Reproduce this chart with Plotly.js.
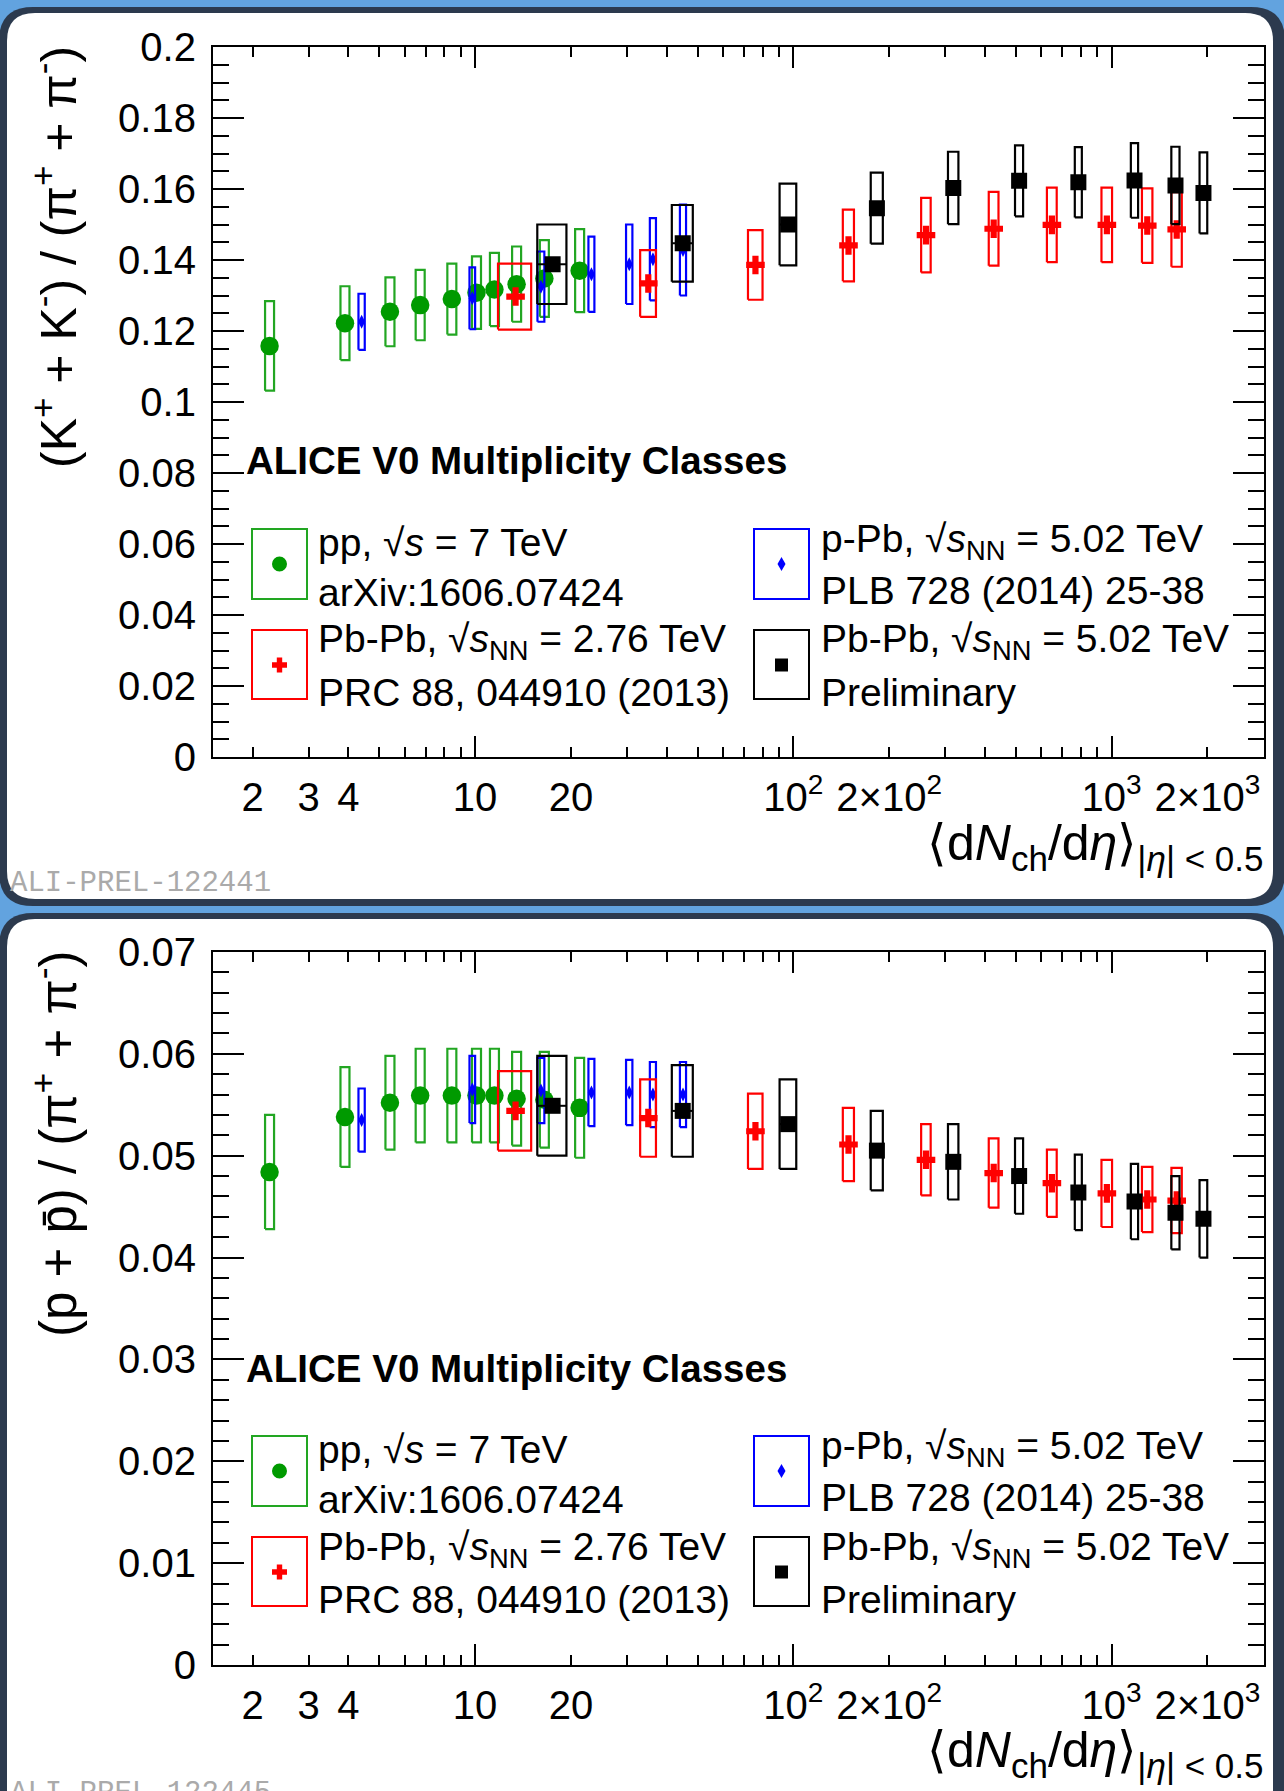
<!DOCTYPE html>
<html>
<head>
<meta charset="utf-8">
<script src="https://cdn.plot.ly/plotly-3.0.1.min.js"></script>
<style>
html,body{margin:0;padding:0;background:#62a3df;}
#chart{width:1284px;height:1791px;}
</style>
</head>
<body>
<div id="chart"></div>
<script>
// ---------------- DATA ----------------
// x: <dNch/deta>, |eta|<0.5
const ppX = [2.26, 3.90, 5.40, 6.72, 8.45, 10.1, 11.5, 13.5, 16.5, 21.3];
const pPbX = [4.4, 9.8, 16.1, 23.2, 30.5, 36.2, 45.0];
const pPbXerr = [0.1, 0.2, 0.4, 0.5, 0.7, 0.8, 1.0];
const PbPb276X = [13.4, 35, 76, 149, 261, 426, 649, 966, 1294, 1601];
const PbPb276Xerr = [1.6, 2, 4, 6, 9, 15, 23, 37, 49, 60];
const PbPb502X = [17.52, 44.9, 96.3, 183, 318, 512, 786, 1180, 1587, 1943];
const PbPb502Xerr = [1.84, 3.4, 5.8, 8, 12, 15, 20, 31, 47, 54];

// (K+ + K-)/(pi+ + pi-)
const kpiPP = [0.1158, 0.1222, 0.1254, 0.1273, 0.1290, 0.1308, 0.1317, 0.1332, 0.1348, 0.1370];
const kpiPPsys = [0.0126, 0.0104, 0.0097, 0.0099, 0.0100, 0.0102, 0.0103, 0.0106, 0.0108, 0.0117];
const kpiPPb = [0.1226, 0.1292, 0.1325, 0.1360, 0.1388, 0.1402, 0.1428];
const kpiPPbSys = [0.0079, 0.0087, 0.0099, 0.0106, 0.0112, 0.0116, 0.0128];
const kpiPbPb276 = [0.1297, 0.1334, 0.1386, 0.1441, 0.1470, 0.1488, 0.1499, 0.1499, 0.1497, 0.1486];
const kpiPbPb276Sys = [0.0093, 0.0094, 0.0098, 0.0101, 0.0105, 0.0104, 0.0105, 0.0105, 0.0105, 0.0105];
const kpiPbPb502 = [0.1388, 0.1447, 0.1500, 0.1546, 0.1603, 0.1623, 0.1619, 0.1624, 0.1610, 0.1589];
const kpiPbPb502Sys = [0.0112, 0.0108, 0.0115, 0.0100, 0.0102, 0.0100, 0.0099, 0.0105, 0.0109, 0.0114];

// (p + pbar)/(pi+ + pi-)
const ppiPP = [0.0484, 0.0538, 0.0552, 0.0559, 0.0559, 0.0559, 0.0559, 0.0556, 0.0555, 0.0547];
const ppiPPsys = [0.0056, 0.0049, 0.0046, 0.0046, 0.0046, 0.0046, 0.0046, 0.0046, 0.0047, 0.0049];
const ppiPPb = [0.0535, 0.0565, 0.0564, 0.0562, 0.0562, 0.0560, 0.0560];
const ppiPPbSys = [0.0031, 0.0033, 0.0032, 0.0033, 0.0032, 0.0032, 0.0032];
const ppiPbPb276 = [0.0544, 0.0537, 0.0524, 0.0511, 0.0496, 0.0483, 0.0473, 0.0463, 0.0457, 0.0456];
const ppiPbPb276Sys = [0.0039, 0.0038, 0.0037, 0.0036, 0.0035, 0.0034, 0.0033, 0.0033, 0.0032, 0.0032];
const ppiPbPb502 = [0.0549, 0.0544, 0.0531, 0.0505, 0.0494, 0.0480, 0.0464, 0.0455, 0.0444, 0.0438];
const ppiPbPb502Sys = [0.0049, 0.0045, 0.0044, 0.0039, 0.0037, 0.0037, 0.0037, 0.0037, 0.0036, 0.0038];

// tick labels
const xTickVals = [2, 3, 4, 10, 20, 100, 200, 1000, 2000];
const xTickText = ['2', '3', '4', '10', '20', '10<sup>2</sup>', '2×10<sup>2</sup>', '10<sup>3</sup>', '2×10<sup>3</sup>'];
const xMinorVals = [5, 6, 7, 8, 9, 30, 40, 50, 60, 70, 80, 90, 300, 400, 500, 600, 700, 800, 900];
const xDecadeVals = [10, 100, 1000];

// ---------------- STYLE / GEOMETRY ----------------
const W = 1284, H = 1791;
const PX = v => v / W;
const PY = v => 1 - v / H;
const GREEN = '#009a00', GREEN_BOX = '#22a622', RED = '#ff0000', BLUE = '#0000ff', BLACK = '#000000';
const FONT = "'Liberation Sans', Arial, sans-serif";
const PX_PER_DEC = 318.3;
const PP_BOX_HALF_PX = 4.5;
const BOTTOM_SHIFT = 907;

const topP = {x0: 212.9, x1: 1263.5, y0: 47, y1: 757};
const botP = {x0: 212.9, x1: 1263.5, y0: 952, y1: 1665};

function boxTrace(xs, ys, sys, xlo, xhi, color, xa, ya) {
  const bx = [], by = [];
  xs.forEach((x, i) => {
    const a = xlo(i), b = xhi(i), lo = ys[i] - sys[i], hi = ys[i] + sys[i];
    bx.push(a, b, b, a, a, null);
    by.push(lo, lo, hi, hi, lo, null);
  });
  return {x: bx, y: by, xaxis: xa, yaxis: ya, mode: 'lines', line: {color: color, width: 2.2},
          hoverinfo: 'skip', showlegend: false, connectgaps: false};
}
function markerTrace(xs, ys, symbol, size, color, xa, ya, xerr) {
  const t = {x: xs, y: ys, xaxis: xa, yaxis: ya, mode: 'markers',
    marker: {symbol: symbol, size: size, color: color, line: {width: 0}}, showlegend: false};
  if (xerr) t.error_x = {type: 'data', array: xerr, visible: true, thickness: 2, width: 0, color: color};
  return t;
}
const ppK = Math.pow(10, PP_BOX_HALF_PX / PX_PER_DEC);
function panelTraces(xa, ya, yPP, sPP, yPPb, sPPb, y276, s276, y502, s502) {
  return [
    boxTrace(ppX, yPP, sPP, i => ppX[i] / ppK, i => ppX[i] * ppK, GREEN_BOX, xa, ya),
    markerTrace(ppX, yPP, 'circle', 18.5, GREEN, xa, ya),
    boxTrace(pPbX, yPPb, sPPb, i => pPbX[i] - pPbXerr[i], i => pPbX[i] + pPbXerr[i], BLUE, xa, ya),
    markerTrace(pPbX, yPPb, 'diamond-tall', 10, BLUE, xa, ya),
    boxTrace(PbPb276X, y276, s276, i => PbPb276X[i] - PbPb276Xerr[i], i => PbPb276X[i] + PbPb276Xerr[i], RED, xa, ya),
    markerTrace(PbPb276X, y276, 'cross', 15.5, RED, xa, ya),
    boxTrace(PbPb502X, y502, s502, i => PbPb502X[i] - PbPb502Xerr[i], i => PbPb502X[i] + PbPb502Xerr[i], BLACK, xa, ya),
    markerTrace(PbPb502X, y502, 'square', 16, BLACK, xa, ya, PbPb502Xerr)
  ];
}

const data = []
  .concat(panelTraces('x', 'y', kpiPP, kpiPPsys, kpiPPb, kpiPPbSys, kpiPbPb276, kpiPbPb276Sys, kpiPbPb502, kpiPbPb502Sys))
  .concat(panelTraces('x2', 'y2', ppiPP, ppiPPsys, ppiPPb, ppiPPbSys, ppiPbPb276, ppiPbPb276Sys, ppiPbPb502, ppiPbPb502Sys));
// empty traces so the decade-tick overlay axes are drawn
data.push({x: [], y: [], xaxis: 'x3', yaxis: 'y', mode: 'markers', showlegend: false});
data.push({x: [], y: [], xaxis: 'x4', yaxis: 'y2', mode: 'markers', showlegend: false});

const xRange = [Math.log10(1.5), Math.log10(3000)];
function xAxis(p, anchor) {
  return {domain: [PX(p.x0), PX(p.x1)], anchor: anchor, type: 'log', range: xRange,
    tickmode: 'array', tickvals: xTickVals, ticktext: xTickText,
    ticks: 'inside', ticklen: 10, tickwidth: 2, tickcolor: '#000',
    minor: {tickmode: 'array', tickvals: xMinorVals, ticks: 'inside', ticklen: 10, tickwidth: 2, tickcolor: '#000', showgrid: false},
    showline: true, linewidth: 2, linecolor: '#000', mirror: 'ticks',
    showgrid: false, zeroline: false, ticklabelstandoff: 4,
    tickfont: {family: FONT, size: 40, color: '#000'}};
}
function decadeAxis(p, over, anchor) {
  return {domain: [PX(p.x0), PX(p.x1)], overlaying: over, anchor: anchor, type: 'log', range: xRange,
    tickmode: 'array', tickvals: xDecadeVals, ticks: 'inside', ticklen: 21, tickwidth: 2, tickcolor: '#000',
    showticklabels: false, showline: false, mirror: 'ticks', showgrid: false, zeroline: false};
}
function yAxis(p, anchor, range, dtick, mdtick) {
  return {domain: [PY(p.y1), PY(p.y0)], anchor: anchor, range: range,
    tickmode: 'linear', tick0: 0, dtick: dtick,
    ticks: 'inside', ticklen: 31, tickwidth: 2, tickcolor: '#000',
    minor: {tick0: 0, dtick: mdtick, ticks: 'inside', ticklen: 16, tickwidth: 2, tickcolor: '#000', showgrid: false},
    showline: true, linewidth: 2, linecolor: '#000', mirror: 'ticks',
    showgrid: false, zeroline: false, ticklabelstandoff: 7,
    tickfont: {family: FONT, size: 40, color: '#000'}};
}

// ---------- background panels ----------
function roundRect(x0, y0, x1, y1, r) {
  const p = (x, y) => PX(x) + ',' + PY(y);
  return 'M ' + p(x0 + r, y0) + ' L ' + p(x1 - r, y0) + ' Q ' + p(x1, y0) + ' ' + p(x1, y0 + r) +
    ' L ' + p(x1, y1 - r) + ' Q ' + p(x1, y1) + ' ' + p(x1 - r, y1) +
    ' L ' + p(x0 + r, y1) + ' Q ' + p(x0, y1) + ' ' + p(x0, y1 - r) +
    ' L ' + p(x0, y0 + r) + ' Q ' + p(x0, y0) + ' ' + p(x0 + r, y0) + ' Z';
}
const shapes = [];
function panel(y0, y1) {
  shapes.push({type: 'path', xref: 'paper', yref: 'paper', layer: 'below', path: roundRect(-1, y0, 1285, y1, 34),
    fillcolor: '#2c3a4e', line: {width: 0}});
  shapes.push({type: 'path', xref: 'paper', yref: 'paper', layer: 'below', path: roundRect(7, y0 + 6, 1273, y1 - 7, 28),
    fillcolor: '#ffffff', line: {width: 0}});
}
panel(7, 906);
panel(913, 1830);

// ---------- legend glyphs ----------
function rectShape(x0, y0, x1, y1, color, fill) {
  shapes.push({type: 'rect', xref: 'paper', yref: 'paper', x0: PX(x0), x1: PX(x1), y0: PY(y1), y1: PY(y0),
    line: {color: color, width: fill ? 0 : 2}, fillcolor: fill ? color : 'rgba(0,0,0,0)'});
}
function pathShape(pts, color) {
  const d = pts.map((q, i) => (i ? 'L ' : 'M ') + PX(q[0]) + ',' + PY(q[1])).join(' ') + ' Z';
  shapes.push({type: 'path', xref: 'paper', yref: 'paper', path: d, fillcolor: color, line: {width: 0}});
}
function legendGlyphs(dy) {
  const c1 = 279.5, c2 = 781.5, r1 = 564 + dy, r2 = 665 + dy;
  rectShape(252, 529 + dy, 307, 599 + dy, GREEN_BOX);
  rectShape(252, 630 + dy, 307, 699 + dy, RED);
  rectShape(754, 529 + dy, 809, 599 + dy, BLUE);
  rectShape(754, 630 + dy, 809, 699 + dy, BLACK);
  shapes.push({type: 'circle', xref: 'paper', yref: 'paper', x0: PX(c1 - 7.5), x1: PX(c1 + 7.5), y0: PY(r1 + 7.5), y1: PY(r1 - 7.5),
    fillcolor: GREEN, line: {width: 0}});
  const a = 7.5, t = 2.7;
  pathShape([[c1 - t, r2 - a], [c1 + t, r2 - a], [c1 + t, r2 - t], [c1 + a, r2 - t], [c1 + a, r2 + t], [c1 + t, r2 + t],
    [c1 + t, r2 + a], [c1 - t, r2 + a], [c1 - t, r2 + t], [c1 - a, r2 + t], [c1 - a, r2 - t], [c1 - t, r2 - t]], RED);
  pathShape([[c2, r1 - 7], [c2 + 4, r1], [c2, r1 + 7], [c2 - 4, r1]], BLUE);
  rectShape(c2 - 6.5, r2 - 6.5, c2 + 6.5, r2 + 6.5, BLACK, true);
}
legendGlyphs(0);
legendGlyphs(BOTTOM_SHIFT);

// ---------- text ----------
const annotations = [];
function txt(text, x, y, opts) {
  opts = opts || {};
  annotations.push(Object.assign({text: text, xref: 'paper', yref: 'paper', x: PX(x), y: PY(y),
    xanchor: 'left', yanchor: 'middle', showarrow: false,
    font: {family: FONT, size: 39, color: '#000'}}, opts));
}
function panelText(dy) {
  txt('<b>ALICE V0 Multiplicity Classes</b>', 244, 461 + dy, {font: {family: FONT, size: 38.5, color: '#000'}});
  txt('pp, √<i>s</i> = 7 TeV', 316, 542 + dy);
  txt('arXiv:1606.07424', 316, 592 + dy);
  txt('Pb-Pb, √<i>s</i><sub>NN</sub> = 2.76 TeV', 316, 642 + dy);
  txt('PRC 88, 044910 (2013)', 316, 692 + dy);
  txt('p-Pb, √<i>s</i><sub>NN</sub> = 5.02 TeV', 819, 541 + dy);
  txt('PLB 728 (2014) 25-38', 819, 590 + dy);
  txt('Pb-Pb, √<i>s</i><sub>NN</sub> = 5.02 TeV', 819, 642 + dy);
  txt('Preliminary', 819, 692 + dy);
  txt('⟨d<i>N</i><sub>ch</sub>/d<i>η</i>⟩<sub>|<i>η</i>| &lt; 0.5</sub>', 1266, 846 + dy,
    {xanchor: 'right', font: {family: FONT, size: 50, color: '#000'}});
}
panelText(0);
panelText(BOTTOM_SHIFT);
txt('(K<sup>+</sup> + K<sup>-</sup>) / (π<sup>+</sup> + π<sup>-</sup>)', 55, 257,
  {xanchor: 'center', yanchor: 'middle', textangle: -90, font: {family: FONT, size: 50, color: '#000'}});
txt('(p + p̄) / (π<sup>+</sup> + π<sup>-</sup>)', 55, 1144,
  {xanchor: 'center', yanchor: 'middle', textangle: -90, font: {family: FONT, size: 51, color: '#000'}});
txt('ALI-PREL-122441', 8, 884, {font: {family: "'Liberation Mono', monospace", size: 29, color: '#aaaaaa'}});
txt('ALI-PREL-122445', 8, 1793, {font: {family: "'Liberation Mono', monospace", size: 29, color: '#aaaaaa'}});

const layout = {
  width: W, height: H, margin: {l: 0, r: 0, t: 0, b: 0, pad: 0},
  paper_bgcolor: '#62a3df', plot_bgcolor: 'rgba(0,0,0,0)', showlegend: false,
  xaxis: xAxis(topP, 'y'), yaxis: yAxis(topP, 'x', [0, 0.2], 0.02, 0.005),
  xaxis2: xAxis(botP, 'y2'), yaxis2: yAxis(botP, 'x2', [0, 0.07], 0.01, 0.002),
  xaxis3: decadeAxis(topP, 'x', 'y'), xaxis4: decadeAxis(botP, 'x2', 'y2'),
  shapes: shapes, annotations: annotations
};
Plotly.newPlot('chart', data, layout, {displayModeBar: false, staticPlot: true});
</script>
</body>
</html>
